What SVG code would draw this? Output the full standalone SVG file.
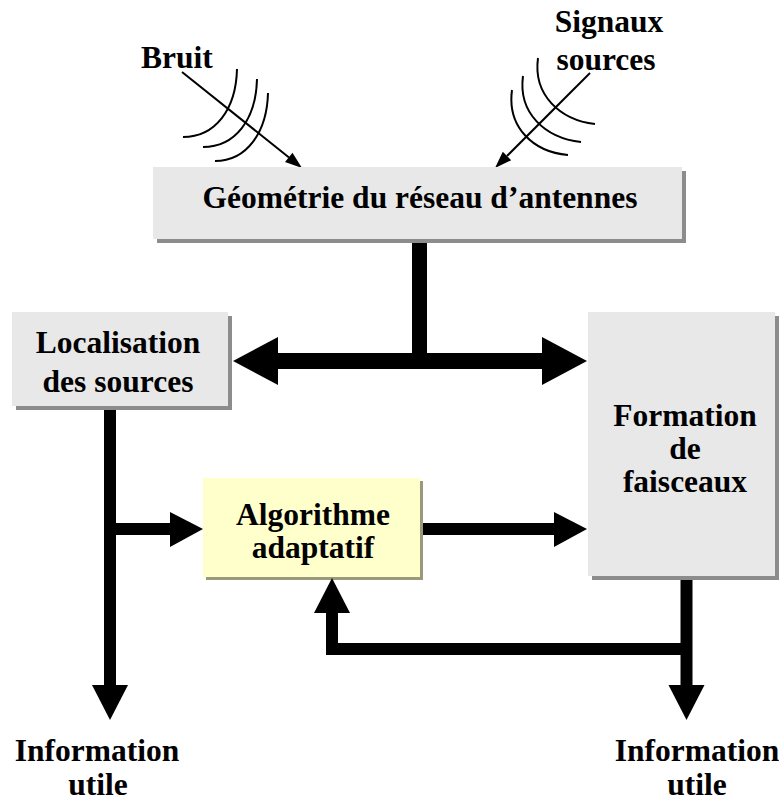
<svg xmlns="http://www.w3.org/2000/svg" width="779" height="803" viewBox="0 0 779 803">
<style>
.t{font-family:'Liberation Serif','Tinos','Times New Roman','Times','Noto Serif','DejaVu Serif','FreeSerif','Nimbus Roman','Nimbus Roman No9 L',serif;font-weight:700;font-size:31.5px;fill:#000;text-anchor:middle}
.box{fill:#e8e8e8}
.sh{fill:#8c8c8c}
.ybox{fill:#ffffcc}
.ysh{fill:#9a9a7a}
.thick{stroke:#000;fill:none}
.wave{stroke:#000;stroke-width:2;fill:none}
.head{fill:#000}
</style>
<rect width="779" height="803" fill="#fff"/>
<g id="bruit">
<text class="t" x="177" y="68">Bruit</text>
<path class="wave" d="M237,69 C236,110 215,137 183,137"/>
<path class="wave" d="M257,79 C256,120 235,147 203,147"/>
<path class="wave" d="M268,93 C267,132 247,161 215,161"/>
<line class="wave" x1="182" y1="72" x2="289" y2="157.5"/>
<polygon class="head" points="302,168 285,162.1 292.5,152.7"/>
</g>
<g id="signaux">
<text class="t" x="609" y="32">Signaux</text>
<text class="t" x="606" y="70">sources</text>
<path class="wave" d="M538,58 C533,95 560,120 595,124"/>
<path class="wave" d="M523,76 C518,113 545,138 581,142"/>
<path class="wave" d="M512,90 C507,127 533,152 568,155"/>
<line class="wave" x1="590" y1="73" x2="507" y2="156"/>
<polygon class="head" points="495,168 511.2,160.2 502.8,151.8"/>
</g>
<g id="geometrie">
<rect class="sh" x="157" y="171" width="529" height="72"/>
<rect class="box" x="153" y="167" width="529" height="72"/>
<text class="t" x="420" y="208">Géométrie du réseau d’antennes</text>
</g>
<g id="localisation">
<rect class="sh" x="16" y="316" width="216" height="94"/>
<rect class="box" x="12" y="312" width="216" height="94"/>
<text class="t" x="118" y="353">Localisation</text>
<text class="t" x="118" y="392">des sources</text>
</g>
<g id="formation">
<rect class="sh" x="592" y="316" width="187" height="264"/>
<rect class="box" x="588" y="312" width="187" height="264"/>
<text class="t" x="685" y="426">Formation</text>
<text class="t" x="685" y="459">de</text>
<text class="t" x="685" y="492">faisceaux</text>
</g>
<g id="algorithme">
<rect class="ysh" x="206" y="481" width="217" height="99"/>
<rect class="ybox" x="203" y="478" width="217" height="99"/>
<text class="t" x="313" y="525">Algorithme</text>
<text class="t" x="313" y="558">adaptatif</text>
</g>
<g id="info-left">
<text class="t" x="97" y="761">Information</text>
<text class="t" x="98" y="795">utile</text>
</g>
<g id="info-right">
<text class="t" x="697" y="761">Information</text>
<text class="t" x="697" y="795">utile</text>
</g>
<g id="connectors">
<line class="thick" stroke-width="15" x1="419.5" y1="243" x2="419.5" y2="361"/>
<line class="thick" stroke-width="16" x1="276" y1="361" x2="544" y2="361"/>
<polygon class="head" points="233,361 278,337 278,385"/>
<polygon class="head" points="587,361 542,337 542,385"/>
<line class="thick" stroke-width="12" x1="110" y1="410" x2="110" y2="687"/>
<polygon class="head" points="92,685 128,685 110,720"/>
<line class="thick" stroke-width="12" x1="110" y1="529" x2="172" y2="529"/>
<polygon class="head" points="170,512 170,547 203,529"/>
<line class="thick" stroke-width="12" x1="423" y1="529" x2="556" y2="529"/>
<polygon class="head" points="554,512 554,547 587,529"/>
<line class="thick" stroke-width="12" x1="686.5" y1="580" x2="686.5" y2="687"/>
<polygon class="head" points="668.5,685 704.5,685 686.5,720"/>
<path class="thick" stroke-width="12" d="M686.5,649 H332 V611"/>
<polygon class="head" points="314,613 350,613 332,578"/>
</g>
</svg>
